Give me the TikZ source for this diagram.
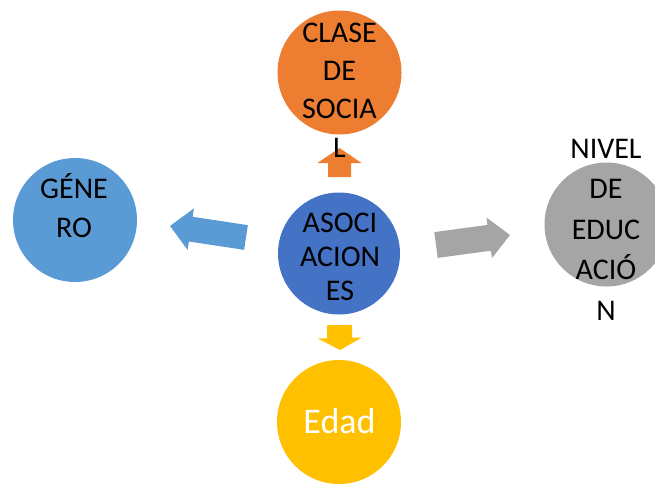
\documentclass[tikz,border=0pt]{standalone}
\usepackage{fontspec}
\setmainfont{Carlito}
\usetikzlibrary{calc}
\definecolor{cOrange}{HTML}{ED7D31}
\definecolor{cBlue}{HTML}{4472C4}
\definecolor{cLBlue}{HTML}{5B9BD5}
\definecolor{cGray}{HTML}{A5A5A5}
\definecolor{cGold}{HTML}{FFC000}
\newcommand\blockarr[6]{%
  \coordinate (hb) at ($(#2)!#5!(#1)$);
  \fill[#6] ($(#1)!#3!90:(#2)$) -- ($(hb)!#3!-90:(#1)$) -- ($(hb)!#4!-90:(#1)$) -- (#2)
    -- ($(hb)!#4!90:(#1)$) -- ($(hb)!#3!90:(#1)$) -- ($(#1)!#3!-90:(#2)$) -- cycle;
}
\tikzset{
  bubble/.style={circle, minimum size=124pt, inner sep=0pt, fill=#1},
  lbl/.style={inner sep=0pt, align=center, text=black, anchor=base}
}
\begin{document}
\begin{tikzpicture}[x=1pt,y=-1pt]
\useasboundingbox (0,0) rectangle (655,485);
\clip (0,0) rectangle (655,485);
% circles
\node[bubble=cOrange] (clase) at (339.5,72.5) {};
\node[bubble=cLBlue] (genero) at (75,220) {};
\node[bubble=cBlue, minimum size=122pt] (asoc) at (339,253.5) {};
\node[bubble=cGray] (nivel) at (606.5,224.5) {};
\node[bubble=cGold] (edad) at (339,422) {};
% arrows
\coordinate (upT) at (339.5,177); \coordinate (upH) at (339.5,148);
\blockarr{upT}{upH}{11.5pt}{22pt}{15pt}{cOrange}
\coordinate (dnT) at (339.5,325); \coordinate (dnH) at (340,350);
\blockarr{dnT}{dnH}{12.5pt}{22pt}{12pt}{cGold}
\coordinate (lfT) at (246,237.5); \coordinate (lfH) at (170,226);
\blockarr{lfT}{lfH}{12.5pt}{21pt}{21pt}{cLBlue}
\coordinate (rtT) at (436,245); \coordinate (rtH) at (510,235);
\blockarr{rtT}{rtH}{13pt}{20.5pt}{21pt}{cGray}
% texts (base anchor = baseline of last line)
\node[lbl, font=\fontsize{30}{38.3}\selectfont] (tclase) at (339.5,157) {CLASE\\DE\\SOCIA\\L};
\node[lbl, font=\fontsize{30}{39}\selectfont] (tgen) at (74,237) {GÉNE\\RO};
\node[lbl, font=\fontsize{30}{34}\selectfont] (tasoc) at (340,300) {ASOCI\\ACION\\ES};
\node[lbl, font=\fontsize{30}{40.5}\selectfont] (tniv) at (606,320) {NIVEL\\DE\\EDUC\\ACIÓ\\N};
\node[inner sep=0pt, anchor=base, text=white, font=\fontsize{36}{43}\selectfont] (tedad) at (339.5,433) {Edad};
\end{tikzpicture}
\end{document}
